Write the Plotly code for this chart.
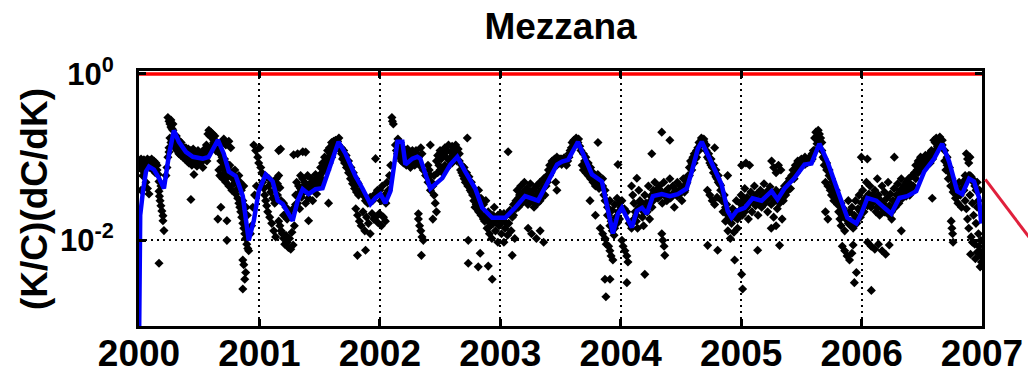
import plotly.graph_objects as go

# ---- labels and axis ticks ----
title_text = "Mezzana"
y_label = "(K/C)(dC/dK)"
year_ticks = [2000, 2001, 2002, 2003, 2004, 2005, 2006, 2007]
year_labels = [str(y) for y in year_ticks]
y_tick_vals = [1.0, 0.01]
y_tick_text = ["10<sup>0</sup>", "10<sup>-2</sup>"]
reference_level = 1.0

# ---- smoothed elasticity (blue curve) ----
smooth_t = [2000.000, 2000.010, 2000.033, 2000.058, 2000.083, 2000.124, 2000.166, 2000.207,
            2000.249, 2000.290, 2000.331, 2000.389, 2000.447, 2000.530, 2000.580, 2000.655,
            2000.704, 2000.746, 2000.804, 2000.862, 2000.911, 2000.953, 2000.994, 2001.052,
            2001.110, 2001.152, 2001.193, 2001.276, 2001.317, 2001.359, 2001.408, 2001.466,
            2001.524, 2001.574, 2001.657, 2001.715, 2001.798, 2001.856, 2001.922, 2001.964,
            2002.005, 2002.046, 2002.088, 2002.146, 2002.187, 2002.212, 2002.270, 2002.311,
            2002.336, 2002.419, 2002.519, 2002.585, 2002.643, 2002.709, 2002.792, 2002.850,
            2002.933, 2003.041, 2003.123, 2003.206, 2003.273, 2003.314, 2003.397, 2003.471,
            2003.513, 2003.563, 2003.645, 2003.703, 2003.761, 2003.844, 2003.894, 2003.935,
            2003.977, 2004.010, 2004.051, 2004.093, 2004.134, 2004.176, 2004.217, 2004.267,
            2004.341, 2004.408, 2004.474, 2004.549, 2004.590, 2004.640, 2004.673, 2004.722,
            2004.780, 2004.838, 2004.888, 2004.921, 2004.963, 2005.029, 2005.095, 2005.170,
            2005.253, 2005.302, 2005.360, 2005.443, 2005.526, 2005.584, 2005.650, 2005.717,
            2005.775, 2005.833, 2005.882, 2005.957, 2005.998, 2006.048, 2006.123, 2006.189,
            2006.247, 2006.313, 2006.379, 2006.454, 2006.520, 2006.603, 2006.669, 2006.727,
            2006.794, 2006.835, 2006.893, 2006.934, 2006.976, 2006.993]
smooth_v = [0.0005, 0.02, 0.039, 0.067, 0.077, 0.071, 0.056, 0.042,
            0.107, 0.21, 0.153, 0.116, 0.101, 0.096, 0.101, 0.161,
            0.110, 0.067, 0.059, 0.034, 0.010, 0.0172, 0.039, 0.062,
            0.051, 0.030, 0.0274, 0.0172, 0.0297, 0.0412, 0.036, 0.0412,
            0.0424, 0.067, 0.153, 0.110, 0.059, 0.042, 0.0274, 0.0323,
            0.036, 0.028, 0.039, 0.153, 0.153, 0.0815, 0.096, 0.101,
            0.096, 0.042, 0.056, 0.0815, 0.101, 0.067, 0.042, 0.0246,
            0.0187, 0.0187, 0.0246, 0.034, 0.031, 0.030, 0.051, 0.0815,
            0.0885, 0.093, 0.153, 0.096, 0.062, 0.051, 0.0226, 0.0121,
            0.0209, 0.0246, 0.0187, 0.0143, 0.0226, 0.0246, 0.0209, 0.034,
            0.036, 0.034, 0.036, 0.042, 0.067, 0.126, 0.153, 0.107,
            0.073, 0.047, 0.0226, 0.0187, 0.0226, 0.0246, 0.032, 0.030,
            0.039, 0.031, 0.042, 0.056, 0.0815, 0.084, 0.145, 0.0885,
            0.051, 0.030, 0.0187, 0.0159, 0.0209, 0.0323, 0.030, 0.0246,
            0.0209, 0.0323, 0.034, 0.039, 0.067, 0.096, 0.145, 0.0885,
            0.039, 0.036, 0.055, 0.051, 0.0323, 0.0159]

# ---- daily estimates (black dots), one list per year ----
dots_2000 = [
    (2000.005, 0.090), (2000.017, 0.085), (2000.017, 0.095), (2000.030, 0.088), (2000.041, 0.080),
    (2000.041, 0.093), (2000.058, 0.090), (2000.058, 0.083), (2000.070, 0.095), (2000.083, 0.085),
    (2000.083, 0.092), (2000.099, 0.088), (2000.110, 0.080), (2000.124, 0.090), (2000.124, 0.074),
    (2000.141, 0.085), (2000.150, 0.070),
    (2000.058, 0.050), (2000.070, 0.042), (2000.083, 0.036), (2000.017, 0.040), (2000.030, 0.060),
    (2000.166, 0.039), (2000.170, 0.034), (2000.175, 0.030), (2000.182, 0.026), (2000.190, 0.0226),
    (2000.199, 0.0198), (2000.199, 0.0172), (2000.207, 0.0131), (2000.182, 0.045), (2000.166, 0.051),
    (2000.166, 0.0053),
    (2000.224, 0.060), (2000.232, 0.075), (2000.240, 0.100), (2000.249, 0.130), (2000.249, 0.115),
    (2000.240, 0.300), (2000.249, 0.270), (2000.257, 0.250), (2000.265, 0.280), (2000.265, 0.230),
    (2000.274, 0.220), (2000.282, 0.250), (2000.282, 0.210),
    (2000.257, 0.170), (2000.265, 0.150), (2000.274, 0.160), (2000.290, 0.140), (2000.298, 0.130),
    (2000.307, 0.150), (2000.315, 0.120), (2000.323, 0.135), (2000.331, 0.110), (2000.340, 0.125),
    (2000.348, 0.105), (2000.356, 0.120),
    (2000.365, 0.100), (2000.373, 0.115), (2000.381, 0.095), (2000.389, 0.130), (2000.398, 0.090),
    (2000.406, 0.110), (2000.414, 0.085), (2000.422, 0.100), (2000.431, 0.120), (2000.439, 0.080),
    (2000.447, 0.095), (2000.456, 0.110), (2000.464, 0.085), (2000.472, 0.100), (2000.481, 0.078),
    (2000.489, 0.092), (2000.497, 0.105), (2000.505, 0.085), (2000.514, 0.097), (2000.522, 0.088),
    (2000.530, 0.075),
    (2000.431, 0.031), (2000.456, 0.062), (2000.350, 0.150),
    (2000.572, 0.190), (2000.580, 0.210), (2000.589, 0.180), (2000.597, 0.200), (2000.605, 0.175),
    (2000.613, 0.190), (2000.622, 0.160), (2000.630, 0.180),
    (2000.688, 0.150), (2000.704, 0.165), (2000.721, 0.140), (2000.746, 0.155), (2000.762, 0.130),
    (2000.547, 0.100), (2000.555, 0.115), (2000.564, 0.090), (2000.580, 0.120), (2000.597, 0.130),
    (2000.613, 0.140), (2000.638, 0.120),
    (2000.663, 0.070), (2000.671, 0.060), (2000.679, 0.090), (2000.688, 0.075), (2000.696, 0.055),
    (2000.704, 0.085), (2000.713, 0.065), (2000.721, 0.050), (2000.729, 0.070), (2000.738, 0.058),
    (2000.746, 0.045), (2000.754, 0.080), (2000.762, 0.062), (2000.771, 0.040), (2000.779, 0.055),
    (2000.787, 0.048), (2000.796, 0.070), (2000.804, 0.036), (2000.812, 0.050), (2000.820, 0.042),
    (2000.829, 0.060),
    (2000.655, 0.018), (2000.680, 0.025), (2000.730, 0.0172), (2000.730, 0.010),
    (2000.820, 0.032), (2000.829, 0.028), (2000.837, 0.025), (2000.845, 0.022), (2000.853, 0.019),
    (2000.862, 0.030), (2000.862, 0.016), (2000.870, 0.014), (2000.878, 0.012), (2000.886, 0.0105),
    (2000.895, 0.009), (2000.903, 0.0115), (2000.903, 0.008), (2000.911, 0.0075),
    (2000.862, 0.0058), (2000.870, 0.0051), (2000.886, 0.0041), (2000.878, 0.0034), (2000.862, 0.0026),
    (2000.953, 0.140), (2000.969, 0.120), (2000.986, 0.100), (2000.994, 0.085),
    (2000.960, 0.035), (2000.975, 0.045), (2000.945, 0.025), (2000.935, 0.015),
    (2000.010, 0.075), (2000.025, 0.070), (2000.050, 0.072), (2000.066, 0.078), (2000.090, 0.075),
    (2000.105, 0.095), (2000.115, 0.070), (2000.135, 0.065), (2000.150, 0.080), (2000.160, 0.062),
    (2000.300, 0.170), (2000.310, 0.180), (2000.330, 0.160), (2000.345, 0.140), (2000.360, 0.135),
    (2000.380, 0.125), (2000.395, 0.120), (2000.410, 0.125), (2000.430, 0.105), (2000.450, 0.125),
    (2000.470, 0.115), (2000.490, 0.120), (2000.510, 0.110), (2000.535, 0.105), (2000.545, 0.125),
    (2000.560, 0.140), (2000.620, 0.150), (2000.650, 0.150), (2000.660, 0.130), (2000.670, 0.110),
    (2000.690, 0.100), (2000.710, 0.095), (2000.725, 0.085), (2000.740, 0.075), (2000.770, 0.065),
    (2000.790, 0.060), (2000.840, 0.050), (2000.850, 0.040), (2000.870, 0.045), (2000.890, 0.025),
    (2000.900, 0.020), (2000.915, 0.014), (2000.925, 0.012),
]
dots_2001 = [
    (2001.003, 0.130), (2001.011, 0.075),
    (2001.176, 0.125), (2001.284, 0.107), (2001.360, 0.116),
    (2001.027, 0.050), (2001.036, 0.042), (2001.044, 0.035), (2001.052, 0.030), (2001.060, 0.026),
    (2001.069, 0.022), (2001.077, 0.045), (2001.085, 0.019), (2001.094, 0.038), (2001.102, 0.016),
    (2001.110, 0.032), (2001.119, 0.013), (2001.127, 0.028), (2001.135, 0.011),
    (2001.140, 0.055), (2001.150, 0.048), (2001.160, 0.060), (2001.170, 0.043), (2001.160, 0.120),
    (2001.160, 0.017), (2001.170, 0.015), (2001.180, 0.013), (2001.190, 0.012), (2001.200, 0.0105),
    (2001.210, 0.009), (2001.220, 0.0115), (2001.230, 0.0095), (2001.240, 0.0082), (2001.250, 0.0105),
    (2001.260, 0.0078), (2001.270, 0.0125), (2001.280, 0.0088), (2001.290, 0.015), (2001.200, 0.020),
    (2001.230, 0.018),
    (2001.317, 0.110), (2001.384, 0.115),
    (2001.301, 0.035), (2001.309, 0.050), (2001.317, 0.028), (2001.325, 0.045), (2001.334, 0.024),
    (2001.342, 0.060), (2001.350, 0.033), (2001.359, 0.055), (2001.367, 0.038), (2001.375, 0.050),
    (2001.384, 0.028), (2001.392, 0.045), (2001.400, 0.060), (2001.408, 0.032), (2001.417, 0.048),
    (2001.425, 0.040), (2001.433, 0.055), (2001.442, 0.030), (2001.450, 0.050), (2001.458, 0.043),
    (2001.466, 0.062), (2001.475, 0.036), (2001.483, 0.052), (2001.491, 0.046), (2001.408, 0.0172),
    (2001.500, 0.060), (2001.508, 0.075), (2001.516, 0.055), (2001.524, 0.085), (2001.533, 0.070),
    (2001.541, 0.100), (2001.549, 0.080), (2001.557, 0.090), (2001.566, 0.120), (2001.574, 0.100),
    (2001.582, 0.130), (2001.591, 0.110), (2001.599, 0.150), (2001.607, 0.140), (2001.616, 0.155),
    (2001.624, 0.145), (2001.632, 0.160), (2001.640, 0.150), (2001.649, 0.155), (2001.657, 0.140),
    (2001.665, 0.130), (2001.674, 0.120),
    (2001.682, 0.110), (2001.690, 0.095), (2001.699, 0.100), (2001.707, 0.085), (2001.715, 0.090),
    (2001.723, 0.075), (2001.732, 0.080), (2001.740, 0.065), (2001.748, 0.070), (2001.756, 0.055),
    (2001.765, 0.060), (2001.773, 0.048), (2001.781, 0.052), (2001.790, 0.042), (2001.798, 0.046),
    (2001.806, 0.038), (2001.814, 0.050), (2001.823, 0.035), (2001.574, 0.028),
    (2001.800, 0.024), (2001.815, 0.020), (2001.830, 0.017), (2001.845, 0.015), (2001.860, 0.022),
    (2001.875, 0.013), (2001.890, 0.019), (2001.905, 0.016), (2001.920, 0.012), (2001.935, 0.021),
    (2001.950, 0.018), (2001.814, 0.0066), (2001.881, 0.0076),
    (2001.964, 0.019), (2001.980, 0.0165), (2001.996, 0.021), (2001.964, 0.096),
    (2001.020, 0.065), (2001.040, 0.060), (2001.060, 0.058), (2001.080, 0.055), (2001.100, 0.050),
    (2001.130, 0.040), (2001.150, 0.035), (2001.180, 0.030), (2001.200, 0.028), (2001.220, 0.025),
    (2001.240, 0.022), (2001.260, 0.020), (2001.280, 0.024), (2001.300, 0.027), (2001.320, 0.036),
    (2001.340, 0.042), (2001.360, 0.044), (2001.380, 0.040), (2001.400, 0.038), (2001.420, 0.044),
    (2001.440, 0.046), (2001.460, 0.050), (2001.480, 0.056), (2001.500, 0.050), (2001.520, 0.065),
    (2001.540, 0.075), (2001.560, 0.070), (2001.580, 0.085), (2001.600, 0.100), (2001.620, 0.120),
    (2001.640, 0.130), (2001.660, 0.170), (2001.680, 0.130), (2001.700, 0.120), (2001.720, 0.105),
    (2001.740, 0.090), (2001.760, 0.075), (2001.780, 0.065), (2001.800, 0.055), (2001.820, 0.048),
    (2001.840, 0.040), (2001.860, 0.035), (2001.880, 0.030), (2001.900, 0.028), (2001.920, 0.033),
    (2001.940, 0.030), (2001.960, 0.036), (2001.980, 0.040),
]
dots_2002 = [
    (2002.013, 0.015), (2002.030, 0.019), (2002.046, 0.017),
    (2002.100, 0.300), (2002.104, 0.270), (2002.112, 0.250),
    (2002.129, 0.140), (2002.137, 0.120), (2002.146, 0.110), (2002.154, 0.130), (2002.162, 0.100),
    (2002.171, 0.120), (2002.179, 0.090), (2002.187, 0.105), (2002.196, 0.085), (2002.204, 0.115),
    (2002.212, 0.100), (2002.220, 0.080), (2002.229, 0.095), (2002.237, 0.110), (2002.245, 0.090),
    (2002.254, 0.075), (2002.262, 0.100), (2002.270, 0.085), (2002.279, 0.115), (2002.287, 0.095),
    (2002.295, 0.105), (2002.303, 0.090), (2002.311, 0.110),
    (2002.000, 0.040), (2002.020, 0.045), (2002.040, 0.035), (2002.060, 0.050), (2002.080, 0.060),
    (2002.090, 0.080), (2002.320, 0.0209),
    (2002.300, 0.120), (2002.320, 0.100), (2002.340, 0.130), (2002.350, 0.110), (2002.419, 0.140),
    (2002.320, 0.018), (2002.330, 0.015), (2002.340, 0.013), (2002.350, 0.011), (2002.361, 0.010),
    (2002.345, 0.0066),
    (2002.400, 0.080), (2002.410, 0.070), (2002.420, 0.060), (2002.430, 0.050), (2002.440, 0.045),
    (2002.450, 0.035), (2002.460, 0.028), (2002.470, 0.022), (2002.440, 0.018),
    (2002.470, 0.090), (2002.480, 0.105), (2002.490, 0.080), (2002.500, 0.120), (2002.510, 0.095),
    (2002.520, 0.110), (2002.530, 0.075), (2002.540, 0.130), (2002.550, 0.100), (2002.560, 0.120),
    (2002.570, 0.140), (2002.580, 0.090), (2002.590, 0.115), (2002.600, 0.135), (2002.610, 0.105),
    (2002.620, 0.120), (2002.630, 0.140), (2002.640, 0.110), (2002.650, 0.125), (2002.726, 0.170),
    (2002.660, 0.090), (2002.670, 0.070), (2002.680, 0.080), (2002.690, 0.060), (2002.700, 0.075),
    (2002.710, 0.050), (2002.720, 0.065), (2002.730, 0.045), (2002.740, 0.058), (2002.750, 0.040),
    (2002.760, 0.050), (2002.770, 0.035), (2002.780, 0.030), (2002.790, 0.025),
    (2002.734, 0.010), (2002.734, 0.0053),
    (2002.800, 0.035), (2002.810, 0.028), (2002.820, 0.040), (2002.830, 0.024), (2002.840, 0.032),
    (2002.850, 0.020), (2002.860, 0.027), (2002.870, 0.017), (2002.880, 0.030), (2002.890, 0.014),
    (2002.900, 0.022), (2002.910, 0.012), (2002.920, 0.019), (2002.930, 0.0105), (2002.940, 0.016),
    (2002.950, 0.025), (2002.960, 0.013), (2002.970, 0.018), (2002.980, 0.0095), (2002.990, 0.015),
    (2002.833, 0.007), (2002.817, 0.0048), (2002.900, 0.0049), (2002.933, 0.0034),
    (2002.010, 0.030), (2002.030, 0.032), (2002.050, 0.028), (2002.070, 0.040), (2002.150, 0.165),
    (2002.170, 0.150), (2002.190, 0.130), (2002.210, 0.120), (2002.230, 0.125), (2002.250, 0.110),
    (2002.270, 0.120), (2002.290, 0.080), (2002.310, 0.085), (2002.330, 0.080), (2002.360, 0.070),
    (2002.380, 0.060), (2002.400, 0.050), (2002.420, 0.040), (2002.450, 0.060), (2002.480, 0.065),
    (2002.500, 0.070), (2002.520, 0.065), (2002.540, 0.080), (2002.560, 0.075), (2002.580, 0.095),
    (2002.600, 0.085), (2002.620, 0.095), (2002.640, 0.090), (2002.660, 0.110), (2002.680, 0.065),
    (2002.700, 0.055), (2002.720, 0.050), (2002.740, 0.045), (2002.760, 0.038), (2002.780, 0.040),
    (2002.800, 0.027), (2002.820, 0.022), (2002.840, 0.020), (2002.860, 0.018), (2002.880, 0.020),
    (2002.900, 0.017), (2002.920, 0.015), (2002.940, 0.020), (2002.960, 0.017), (2002.980, 0.020),
]
dots_2003 = [
    (2003.000, 0.021), (2003.010, 0.012), (2003.020, 0.017), (2003.030, 0.0095), (2003.040, 0.014),
    (2003.050, 0.020), (2003.060, 0.0115), (2003.070, 0.016), (2003.080, 0.023), (2003.090, 0.013),
    (2003.100, 0.019), (2003.110, 0.027), (2003.120, 0.0105), (2003.099, 0.0066), (2003.065, 0.116),
    (2003.130, 0.030), (2003.140, 0.040), (2003.150, 0.025), (2003.160, 0.035), (2003.170, 0.045),
    (2003.180, 0.028), (2003.190, 0.038), (2003.200, 0.050), (2003.210, 0.032), (2003.220, 0.042),
    (2003.230, 0.027), (2003.240, 0.036), (2003.250, 0.048), (2003.260, 0.030), (2003.270, 0.040),
    (2003.280, 0.025), (2003.290, 0.034), (2003.300, 0.045), (2003.310, 0.028), (2003.320, 0.038),
    (2003.330, 0.050), (2003.340, 0.032), (2003.350, 0.042), (2003.360, 0.055), (2003.370, 0.035),
    (2003.380, 0.045), (2003.390, 0.060),
    (2003.231, 0.014), (2003.260, 0.012), (2003.300, 0.0105), (2003.331, 0.013), (2003.360, 0.0095),
    (2003.400, 0.070), (2003.410, 0.080), (2003.420, 0.065), (2003.430, 0.090), (2003.440, 0.075),
    (2003.450, 0.095), (2003.460, 0.085), (2003.470, 0.100),
    (2003.480, 0.090), (2003.490, 0.085), (2003.500, 0.095), (2003.510, 0.082), (2003.520, 0.090),
    (2003.530, 0.088), (2003.540, 0.094), (2003.550, 0.080), (2003.560, 0.090),
    (2003.460, 0.050), (2003.470, 0.040),
    (2003.596, 0.150), (2003.610, 0.140), (2003.620, 0.155), (2003.630, 0.145), (2003.645, 0.150),
    (2003.660, 0.135), (2003.580, 0.120), (2003.570, 0.100), (2003.811, 0.150),
    (2003.680, 0.080), (2003.690, 0.070), (2003.700, 0.090), (2003.710, 0.065), (2003.720, 0.075),
    (2003.730, 0.060), (2003.740, 0.070), (2003.750, 0.055), (2003.760, 0.065), (2003.770, 0.050),
    (2003.780, 0.060), (2003.790, 0.045), (2003.800, 0.055), (2003.810, 0.048), (2003.820, 0.042),
    (2003.745, 0.030), (2003.790, 0.020),
    (2003.850, 0.045), (2003.860, 0.035), (2003.870, 0.040), (2003.880, 0.030), (2003.890, 0.025),
    (2003.900, 0.020), (2003.910, 0.030), (2003.920, 0.017), (2003.930, 0.023), (2003.940, 0.015),
    (2003.950, 0.027), (2003.960, 0.019), (2003.970, 0.032), (2003.980, 0.022), (2003.990, 0.018),
    (2003.830, 0.014), (2003.850, 0.012), (2003.870, 0.0105), (2003.880, 0.009), (2003.900, 0.0085),
    (2003.910, 0.0075), (2003.920, 0.0065), (2003.935, 0.0058), (2003.945, 0.0115),
    (2003.869, 0.0034), (2003.911, 0.0034), (2003.877, 0.0021), (2003.977, 0.0815),
    (2003.010, 0.017), (2003.030, 0.021), (2003.050, 0.016), (2003.070, 0.021), (2003.090, 0.022),
    (2003.110, 0.020), (2003.130, 0.024), (2003.150, 0.032), (2003.170, 0.030), (2003.190, 0.030),
    (2003.210, 0.040), (2003.230, 0.035), (2003.250, 0.032), (2003.270, 0.034), (2003.290, 0.028),
    (2003.310, 0.035), (2003.330, 0.030), (2003.350, 0.035), (2003.370, 0.045), (2003.390, 0.050),
    (2003.410, 0.060), (2003.430, 0.075), (2003.450, 0.080), (2003.470, 0.080), (2003.490, 0.095),
    (2003.510, 0.095), (2003.530, 0.098), (2003.550, 0.090), (2003.570, 0.110), (2003.590, 0.130),
    (2003.610, 0.160), (2003.630, 0.170), (2003.650, 0.165), (2003.670, 0.120), (2003.690, 0.110),
    (2003.710, 0.100), (2003.730, 0.085), (2003.750, 0.075), (2003.770, 0.065), (2003.790, 0.060),
    (2003.810, 0.062), (2003.830, 0.055), (2003.850, 0.055), (2003.870, 0.030), (2003.890, 0.020),
    (2003.910, 0.015), (2003.930, 0.013), (2003.950, 0.014), (2003.970, 0.016), (2003.990, 0.028),
]
dots_2004 = [
    (2004.000, 0.025), (2004.134, 0.0557),
    (2004.010, 0.010), (2004.020, 0.0085), (2004.035, 0.0075), (2004.050, 0.0065), (2004.060, 0.0055),
    (2004.051, 0.0031),
    (2004.090, 0.045), (2004.100, 0.035), (2004.110, 0.028), (2004.120, 0.022), (2004.130, 0.017),
    (2004.140, 0.014), (2004.150, 0.040), (2004.160, 0.030), (2004.170, 0.025), (2004.180, 0.019),
    (2004.190, 0.015), (2004.200, 0.035), (2004.210, 0.028), (2004.220, 0.022), (2004.230, 0.045),
    (2004.240, 0.018), (2004.250, 0.030), (2004.260, 0.025), (2004.270, 0.040), (2004.200, 0.0039),
    (2004.258, 0.110), (2004.341, 0.200), (2004.408, 0.160),
    (2004.283, 0.050), (2004.295, 0.040), (2004.308, 0.032), (2004.320, 0.045), (2004.333, 0.035),
    (2004.345, 0.028), (2004.358, 0.050), (2004.370, 0.038), (2004.383, 0.030), (2004.395, 0.042),
    (2004.408, 0.055), (2004.420, 0.033), (2004.433, 0.045), (2004.445, 0.025), (2004.458, 0.040),
    (2004.470, 0.050), (2004.483, 0.035), (2004.495, 0.045), (2004.508, 0.030), (2004.520, 0.055),
    (2004.533, 0.040), (2004.545, 0.048),
    (2004.341, 0.012), (2004.350, 0.010), (2004.360, 0.0085), (2004.366, 0.0066),
    (2004.560, 0.060), (2004.570, 0.075), (2004.580, 0.090), (2004.590, 0.085), (2004.600, 0.100),
    (2004.610, 0.110), (2004.620, 0.095), (2004.630, 0.120), (2004.640, 0.130),
    (2004.650, 0.150), (2004.660, 0.140), (2004.670, 0.160), (2004.680, 0.145), (2004.690, 0.155),
    (2004.700, 0.135), (2004.780, 0.130),
    (2004.710, 0.120), (2004.720, 0.100), (2004.730, 0.110), (2004.740, 0.085), (2004.750, 0.095),
    (2004.760, 0.075), (2004.770, 0.080), (2004.780, 0.065), (2004.790, 0.070), (2004.800, 0.055),
    (2004.810, 0.060), (2004.820, 0.048),
    (2004.720, 0.040), (2004.740, 0.035), (2004.760, 0.030), (2004.780, 0.027), (2004.800, 0.033),
    (2004.722, 0.0087),
    (2004.830, 0.040), (2004.840, 0.030), (2004.850, 0.022), (2004.860, 0.035), (2004.870, 0.017),
    (2004.880, 0.027), (2004.890, 0.013), (2004.900, 0.020), (2004.910, 0.0105), (2004.920, 0.016),
    (2004.930, 0.024), (2004.940, 0.0125), (2004.950, 0.019), (2004.960, 0.030), (2004.970, 0.014),
    (2004.980, 0.022), (2004.805, 0.0076), (2004.946, 0.0058), (2004.888, 0.060),
    (2004.990, 0.028),
    (2004.010, 0.030), (2004.030, 0.024), (2004.050, 0.022), (2004.070, 0.016), (2004.090, 0.014),
    (2004.110, 0.018), (2004.130, 0.020), (2004.150, 0.025), (2004.170, 0.028), (2004.190, 0.022),
    (2004.210, 0.024), (2004.230, 0.028), (2004.250, 0.034), (2004.270, 0.030), (2004.290, 0.036),
    (2004.310, 0.038), (2004.330, 0.040), (2004.350, 0.036), (2004.370, 0.034), (2004.390, 0.036),
    (2004.410, 0.032), (2004.430, 0.036), (2004.450, 0.038), (2004.470, 0.034), (2004.490, 0.040),
    (2004.510, 0.042), (2004.530, 0.038), (2004.550, 0.050), (2004.570, 0.060), (2004.590, 0.070),
    (2004.610, 0.085), (2004.630, 0.100), (2004.650, 0.120), (2004.670, 0.170), (2004.690, 0.165),
    (2004.710, 0.140), (2004.730, 0.095), (2004.750, 0.080), (2004.770, 0.065), (2004.790, 0.058),
    (2004.810, 0.050), (2004.830, 0.046), (2004.850, 0.030), (2004.870, 0.025), (2004.890, 0.020),
    (2004.910, 0.018), (2004.930, 0.020), (2004.950, 0.022), (2004.970, 0.018), (2004.990, 0.020),
]
dots_2005 = [
    (2005.004, 0.080), (2005.040, 0.085), (2005.070, 0.080),
    (2005.012, 0.0026), (2005.004, 0.0039),
    (2005.000, 0.035), (2005.010, 0.020), (2005.020, 0.030), (2005.030, 0.042), (2005.040, 0.025),
    (2005.050, 0.033), (2005.060, 0.018), (2005.070, 0.028), (2005.080, 0.038), (2005.090, 0.022),
    (2005.100, 0.032), (2005.110, 0.045), (2005.120, 0.026), (2005.130, 0.036), (2005.140, 0.020),
    (2005.150, 0.030), (2005.160, 0.040), (2005.170, 0.025), (2005.180, 0.034), (2005.190, 0.048),
    (2005.200, 0.028), (2005.210, 0.038), (2005.220, 0.022), (2005.230, 0.032), (2005.240, 0.044),
    (2005.250, 0.027), (2005.260, 0.036), (2005.270, 0.019), (2005.280, 0.030), (2005.290, 0.040),
    (2005.300, 0.024), (2005.310, 0.034), (2005.320, 0.028), (2005.330, 0.038), (2005.340, 0.018),
    (2005.350, 0.030), (2005.360, 0.045), (2005.370, 0.035), (2005.380, 0.048), (2005.390, 0.040),
    (2005.400, 0.055), (2005.410, 0.042),
    (2005.137, 0.0076), (2005.319, 0.0087), (2005.290, 0.015), (2005.250, 0.014),
    (2005.253, 0.090), (2005.270, 0.075), (2005.290, 0.065), (2005.310, 0.080), (2005.330, 0.070),
    (2005.420, 0.060), (2005.430, 0.070), (2005.440, 0.055), (2005.450, 0.080), (2005.460, 0.065),
    (2005.470, 0.090), (2005.480, 0.075), (2005.490, 0.085), (2005.500, 0.095), (2005.510, 0.080),
    (2005.520, 0.090), (2005.530, 0.100), (2005.540, 0.085), (2005.550, 0.095), (2005.560, 0.088),
    (2005.570, 0.100), (2005.580, 0.090), (2005.590, 0.110), (2005.600, 0.120),
    (2005.610, 0.170), (2005.620, 0.200), (2005.630, 0.180), (2005.640, 0.210), (2005.650, 0.190),
    (2005.660, 0.170), (2005.670, 0.150), (2005.645, 0.160),
    (2005.680, 0.100), (2005.690, 0.080), (2005.700, 0.050), (2005.710, 0.070), (2005.720, 0.045),
    (2005.730, 0.060), (2005.740, 0.040), (2005.750, 0.035), (2005.760, 0.050), (2005.770, 0.030),
    (2005.700, 0.022), (2005.720, 0.018),
    (2005.780, 0.038), (2005.790, 0.032), (2005.800, 0.027), (2005.810, 0.022), (2005.820, 0.018),
    (2005.830, 0.015), (2005.840, 0.025), (2005.850, 0.020), (2005.860, 0.013),
    (2005.840, 0.0085), (2005.860, 0.0075), (2005.880, 0.0065), (2005.900, 0.0058), (2005.920, 0.0070),
    (2005.930, 0.0088), (2005.940, 0.0031), (2005.957, 0.0041), (2005.998, 0.100),
    (2005.890, 0.030), (2005.900, 0.022), (2005.910, 0.017), (2005.920, 0.025), (2005.930, 0.014),
    (2005.940, 0.020), (2005.950, 0.030), (2005.960, 0.016), (2005.970, 0.024), (2005.980, 0.035),
    (2005.990, 0.019),
    (2005.010, 0.025), (2005.030, 0.022), (2005.050, 0.025), (2005.070, 0.030), (2005.090, 0.030),
    (2005.110, 0.033), (2005.130, 0.030), (2005.150, 0.027), (2005.170, 0.032), (2005.190, 0.030),
    (2005.210, 0.034), (2005.230, 0.040), (2005.250, 0.036), (2005.270, 0.034), (2005.290, 0.032),
    (2005.310, 0.030), (2005.330, 0.034), (2005.350, 0.040), (2005.370, 0.044), (2005.390, 0.050),
    (2005.410, 0.055), (2005.430, 0.060), (2005.450, 0.065), (2005.470, 0.070), (2005.490, 0.075),
    (2005.510, 0.085), (2005.530, 0.082), (2005.550, 0.086), (2005.570, 0.088), (2005.590, 0.095),
    (2005.610, 0.120), (2005.630, 0.145), (2005.650, 0.160), (2005.670, 0.120), (2005.690, 0.095),
    (2005.710, 0.085), (2005.730, 0.070), (2005.750, 0.055), (2005.770, 0.045), (2005.790, 0.040),
    (2005.810, 0.030), (2005.830, 0.028), (2005.850, 0.024), (2005.870, 0.018), (2005.890, 0.016),
    (2005.910, 0.015), (2005.930, 0.017), (2005.950, 0.016), (2005.970, 0.018), (2005.990, 0.022),
]
dots_2006 = [
    (2006.081, 0.0025), (2006.048, 0.095),
    (2006.000, 0.028), (2006.010, 0.040), (2006.020, 0.022), (2006.030, 0.032), (2006.040, 0.050),
    (2006.050, 0.026), (2006.060, 0.036), (2006.070, 0.045), (2006.080, 0.025), (2006.090, 0.035),
    (2006.100, 0.030), (2006.110, 0.040), (2006.120, 0.022), (2006.131, 0.055),
    (2006.050, 0.0095), (2006.080, 0.0085), (2006.110, 0.0078), (2006.140, 0.0090), (2006.170, 0.0075),
    (2006.200, 0.0068), (2006.230, 0.0088), (2006.272, 0.100),
    (2006.130, 0.025), (2006.140, 0.035), (2006.150, 0.020), (2006.160, 0.030), (2006.170, 0.045),
    (2006.180, 0.028), (2006.190, 0.038), (2006.200, 0.022), (2006.210, 0.032), (2006.220, 0.050),
    (2006.230, 0.026), (2006.240, 0.036), (2006.250, 0.018), (2006.260, 0.030), (2006.270, 0.042),
    (2006.280, 0.025), (2006.290, 0.035), (2006.300, 0.048), (2006.310, 0.028), (2006.320, 0.040),
    (2006.330, 0.055), (2006.340, 0.032), (2006.350, 0.045), (2006.360, 0.038), (2006.370, 0.050),
    (2006.380, 0.042), (2006.390, 0.055), (2006.400, 0.035), (2006.410, 0.047), (2006.420, 0.060),
    (2006.330, 0.013),
    (2006.440, 0.065), (2006.450, 0.080), (2006.460, 0.070), (2006.470, 0.090), (2006.480, 0.075),
    (2006.490, 0.100), (2006.500, 0.085), (2006.510, 0.095), (2006.520, 0.080), (2006.530, 0.105),
    (2006.540, 0.090), (2006.550, 0.100), (2006.560, 0.110), (2006.570, 0.095), (2006.580, 0.120),
    (2006.590, 0.105), (2006.587, 0.032),
    (2006.600, 0.160), (2006.610, 0.150), (2006.620, 0.170), (2006.630, 0.155), (2006.640, 0.165),
    (2006.650, 0.150), (2006.660, 0.160), (2006.670, 0.140),
    (2006.690, 0.090), (2006.700, 0.070), (2006.710, 0.080), (2006.720, 0.055), (2006.730, 0.065),
    (2006.740, 0.045), (2006.750, 0.055), (2006.760, 0.038), (2006.770, 0.048), (2006.780, 0.032),
    (2006.790, 0.042), (2006.800, 0.028), (2006.810, 0.050), (2006.820, 0.035), (2006.830, 0.025),
    (2006.744, 0.017), (2006.750, 0.014), (2006.756, 0.012), (2006.760, 0.0095),
    (2006.870, 0.110), (2006.880, 0.095), (2006.890, 0.085), (2006.900, 0.100),
    (2006.850, 0.040), (2006.860, 0.030), (2006.870, 0.024), (2006.880, 0.018), (2006.890, 0.014),
    (2006.900, 0.035), (2006.910, 0.011), (2006.920, 0.028), (2006.930, 0.020), (2006.940, 0.009),
    (2006.950, 0.016), (2006.960, 0.025), (2006.970, 0.012), (2006.980, 0.0075), (2006.990, 0.0065),
    (2006.990, 0.010), (2006.995, 0.0055), (2006.985, 0.0048), (2006.975, 0.0085), (2006.960, 0.0072),
    (2006.945, 0.0060), (2006.920, 0.0095), (2006.905, 0.0068),
    (2006.840, 0.050), (2006.860, 0.060), (2006.900, 0.060), (2006.920, 0.055), (2006.940, 0.045),
    (2006.960, 0.050), (2006.980, 0.040),
    (2006.010, 0.025), (2006.030, 0.030), (2006.050, 0.034), (2006.070, 0.030), (2006.090, 0.028),
    (2006.110, 0.030), (2006.130, 0.032), (2006.150, 0.026), (2006.170, 0.024), (2006.190, 0.022),
    (2006.210, 0.024), (2006.230, 0.020), (2006.250, 0.022), (2006.270, 0.026), (2006.290, 0.030),
    (2006.310, 0.034), (2006.330, 0.035), (2006.350, 0.036), (2006.370, 0.034), (2006.390, 0.038),
    (2006.410, 0.040), (2006.430, 0.045), (2006.450, 0.055), (2006.470, 0.065), (2006.490, 0.075),
    (2006.510, 0.070), (2006.530, 0.085), (2006.550, 0.090), (2006.570, 0.085), (2006.590, 0.095),
    (2006.610, 0.120), (2006.630, 0.135), (2006.650, 0.175), (2006.670, 0.160), (2006.690, 0.120),
    (2006.710, 0.100), (2006.730, 0.075), (2006.750, 0.045), (2006.770, 0.040), (2006.790, 0.036),
    (2006.810, 0.038), (2006.830, 0.042), (2006.850, 0.050), (2006.870, 0.055), (2006.890, 0.060),
    (2006.910, 0.058), (2006.930, 0.050), (2006.950, 0.040), (2006.970, 0.030),
]

all_dots = dots_2000 + dots_2001 + dots_2002 + dots_2003 + dots_2004 + dots_2005 + dots_2006
dot_t = [p[0] for p in all_dots]
dot_v = [p[1] for p in all_dots]

FONT = "Liberation Sans, Arial, sans-serif"

fig = go.Figure()

fig.add_trace(go.Scatter(
    x=dot_t, y=dot_v, mode="markers",
    marker=dict(symbol="diamond", size=7, color="black", line=dict(width=0)),
    showlegend=False, hoverinfo="skip",
))
fig.add_trace(go.Scatter(
    x=smooth_t, y=smooth_v, mode="lines",
    line=dict(color="#0000ff", width=4.5),
    showlegend=False,
))
fig.add_trace(go.Scatter(
    x=[year_ticks[0], year_ticks[-1]], y=[reference_level, reference_level], mode="lines",
    line=dict(color="#ff0000", width=3.5),
    showlegend=False,
))

# connector line leaving the frame on the right
fig.add_shape(type="line", xref="paper", yref="paper",
              x0=1.004, y0=0.575, x1=1.06, y1=0.33,
              line=dict(color="#e0203c", width=3))

fig.add_annotation(text=y_label, textangle=-90, xref="paper", yref="paper",
                   x=-0.124, y=0.5, xanchor="center", yanchor="middle", showarrow=False,
                   font=dict(family=FONT, size=37, color="black", weight="bold"))

fig.update_layout(
    width=1028, height=375,
    margin=dict(l=139, r=46, t=71, b=49, autoexpand=False),
    paper_bgcolor="white", plot_bgcolor="white",
    title=dict(text=title_text, x=0.5, xref="paper", xanchor="center",
               y=0.93, yref="container", yanchor="middle", automargin=False,
               font=dict(family=FONT, size=37, color="black", weight="bold")),
    showlegend=False,
)
fig.update_xaxes(
    range=[2000, 2007], tickvals=year_ticks, ticktext=year_labels,
    showline=True, linecolor="black", linewidth=3, mirror="ticks",
    ticks="inside", ticklen=7, tickwidth=3, tickcolor="black",
    showgrid=True, gridcolor="black", gridwidth=1.5, griddash="2px,4px",
    zeroline=False, ticklabelstandoff=-7, automargin=False,
    tickfont=dict(family=FONT, size=37, color="black", weight="bold"),
)
fig.update_yaxes(
    type="log", range=[-3.03, 0.036], tickvals=y_tick_vals, ticktext=y_tick_text,
    showline=True, linecolor="black", linewidth=3, mirror="ticks",
    ticks="inside", ticklen=7, tickwidth=3, tickcolor="black",
    showgrid=True, gridcolor="black", gridwidth=1.5, griddash="2px,4px",
    zeroline=False, ticklabelstandoff=16, automargin=False,
    tickfont=dict(family=FONT, size=31, color="black", weight="bold"),
)

fig.write_html("out.html")
